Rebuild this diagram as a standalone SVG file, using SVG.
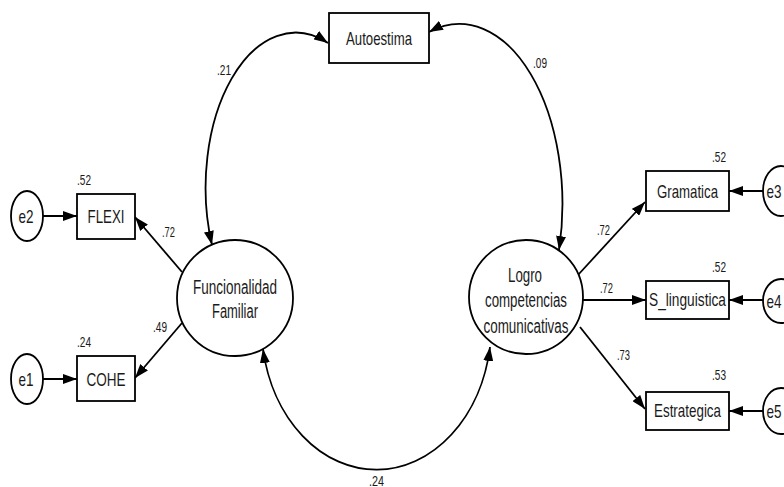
<svg xmlns="http://www.w3.org/2000/svg" width="784" height="487" viewBox="0 0 784 487">
<style>
  .shape { fill: #ffffff; stroke: #000000; stroke-width: 1.8; }
  .lbl { font-family: "Liberation Sans", Arial, sans-serif; font-size: 19px; fill: #1a1a1a; text-anchor: middle; }
  .big { font-size: 20px; }
  .num { font-family: "Liberation Sans", Arial, sans-serif; font-size: 14px; fill: #1a1a1a; }
  .edge { fill: none; stroke: #000000; stroke-width: 1.8; }
</style>
<defs>
  <marker id="ah" viewBox="0 0 14 10" refX="14" refY="5" markerWidth="14" markerHeight="10" markerUnits="userSpaceOnUse" orient="auto-start-reverse">
    <path d="M0,0 L14,5 L0,10 Z" fill="#000000"/>
  </marker>
</defs>
<rect width="784" height="487" fill="#ffffff"/>

<g id="connectors">
  <path class="edge" d="M43,216 L77,216" marker-end="url(#ah)"/>
  <path class="edge" d="M43,379 L77,379" marker-end="url(#ah)"/>
  <path class="edge" d="M182,272 L135,217" marker-end="url(#ah)"/>
  <path class="edge" d="M182,323 L135,378" marker-end="url(#ah)"/>
  <path class="edge" d="M578,275 L645,202" marker-end="url(#ah)"/>
  <path class="edge" d="M583,300 L646,300" marker-end="url(#ah)"/>
  <path class="edge" d="M580,327 L645,409" marker-end="url(#ah)"/>
  <path class="edge" d="M763,191 L729,191" marker-end="url(#ah)"/>
  <path class="edge" d="M763,300 L729,300" marker-end="url(#ah)"/>
  <path class="edge" d="M763,411 L729,411" marker-end="url(#ah)"/>
  <path class="edge" d="M212,245 A90 155 0 0 1 328,43" marker-start="url(#ah)" marker-end="url(#ah)"/>
  <path class="edge" d="M429,32 A103 180 0 0 1 559,250" marker-start="url(#ah)" marker-end="url(#ah)"/>
  <path class="edge" d="M263,349 A115 145 0 0 0 490,347" marker-start="url(#ah)" marker-end="url(#ah)"/>
</g>

<g id="labels">
  <text class="num" x="77" y="185" textLength="14" lengthAdjust="spacingAndGlyphs">.52</text>
  <text class="num" x="162" y="237" textLength="13" lengthAdjust="spacingAndGlyphs">.72</text>
  <text class="num" x="153" y="332" textLength="14" lengthAdjust="spacingAndGlyphs">.49</text>
  <text class="num" x="77" y="347" textLength="14" lengthAdjust="spacingAndGlyphs">.24</text>
  <text class="num" x="217" y="75" textLength="14" lengthAdjust="spacingAndGlyphs">.21</text>
  <text class="num" x="533" y="68" textLength="14" lengthAdjust="spacingAndGlyphs">.09</text>
  <text class="num" x="712" y="162" textLength="14" lengthAdjust="spacingAndGlyphs">.52</text>
  <text class="num" x="597" y="235" textLength="13" lengthAdjust="spacingAndGlyphs">.72</text>
  <text class="num" x="712" y="272" textLength="14" lengthAdjust="spacingAndGlyphs">.52</text>
  <text class="num" x="600" y="293" textLength="13" lengthAdjust="spacingAndGlyphs">.72</text>
  <text class="num" x="617" y="360" textLength="13" lengthAdjust="spacingAndGlyphs">.73</text>
  <text class="num" x="712" y="380" textLength="14" lengthAdjust="spacingAndGlyphs">.53</text>
  <text class="num" x="369" y="486" textLength="15" lengthAdjust="spacingAndGlyphs">.24</text>
</g>

<g id="autoestima">
  <rect class="shape" x="329" y="13" width="100" height="50"/>
  <text class="lbl" x="379" y="45" textLength="66" lengthAdjust="spacingAndGlyphs">Autoestima</text>
</g>
<g id="e2">
  <ellipse class="shape" cx="27" cy="216" rx="16" ry="25"/>
  <text class="lbl" x="26" y="223" textLength="15" lengthAdjust="spacingAndGlyphs">e2</text>
</g>
<g id="e1">
  <ellipse class="shape" cx="27" cy="379" rx="16" ry="25"/>
  <text class="lbl" x="26" y="386" textLength="15" lengthAdjust="spacingAndGlyphs">e1</text>
</g>
<g id="flexi">
  <rect class="shape" x="77" y="194" width="58" height="45"/>
  <text class="lbl" x="106" y="223" textLength="37" lengthAdjust="spacingAndGlyphs">FLEXI</text>
</g>
<g id="cohe">
  <rect class="shape" x="77" y="356" width="58" height="45"/>
  <text class="lbl" x="106" y="386" textLength="39" lengthAdjust="spacingAndGlyphs">COHE</text>
</g>
<g id="funcionalidad">
  <circle class="shape" cx="235" cy="298" r="58"/>
  <text class="lbl big" x="235" y="294" textLength="84" lengthAdjust="spacingAndGlyphs">Funcionalidad</text>
  <text class="lbl big" x="235" y="318" textLength="46" lengthAdjust="spacingAndGlyphs">Familiar</text>
</g>
<g id="logro">
  <circle class="shape" cx="526" cy="297" r="57"/>
  <text class="lbl big" x="525" y="282" textLength="34" lengthAdjust="spacingAndGlyphs">Logro</text>
  <text class="lbl big" x="526" y="307" textLength="82" lengthAdjust="spacingAndGlyphs">competencias</text>
  <text class="lbl big" x="526" y="333" textLength="85" lengthAdjust="spacingAndGlyphs">comunicativas</text>
</g>
<g id="gramatica">
  <rect class="shape" x="646" y="171" width="83" height="40"/>
  <text class="lbl" x="687.5" y="198" textLength="61" lengthAdjust="spacingAndGlyphs">Gramatica</text>
</g>
<g id="s_linguistica">
  <rect class="shape" x="646" y="281" width="83" height="38"/>
  <text class="lbl" x="687.5" y="306" textLength="77" lengthAdjust="spacingAndGlyphs">S_linguistica</text>
</g>
<g id="estrategica">
  <rect class="shape" x="646" y="392" width="83" height="38"/>
  <text class="lbl" x="687.5" y="417" textLength="67" lengthAdjust="spacingAndGlyphs">Estrategica</text>
</g>
<g id="e3">
  <ellipse class="shape" cx="781" cy="191" rx="18" ry="25"/>
  <text class="lbl" x="774" y="198" textLength="15" lengthAdjust="spacingAndGlyphs">e3</text>
</g>
<g id="e4">
  <ellipse class="shape" cx="781" cy="301" rx="18" ry="22"/>
  <text class="lbl" x="774" y="308" textLength="15" lengthAdjust="spacingAndGlyphs">e4</text>
</g>
<g id="e5">
  <ellipse class="shape" cx="781" cy="411" rx="18" ry="23"/>
  <text class="lbl" x="774" y="418" textLength="15" lengthAdjust="spacingAndGlyphs">e5</text>
</g>
</svg>
